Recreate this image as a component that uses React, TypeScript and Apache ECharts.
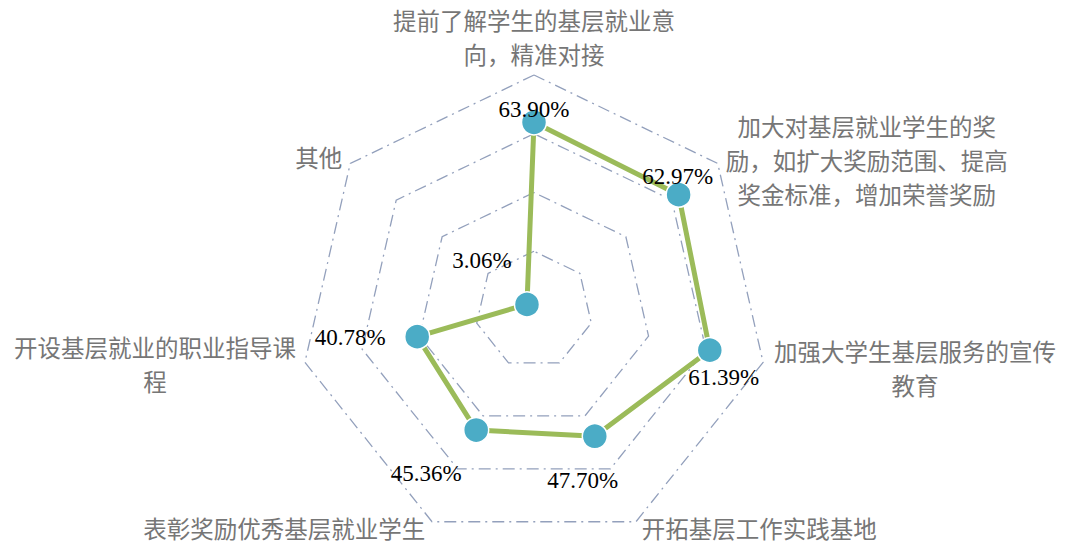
import React, { useEffect, useRef } from "react";
import * as echarts from "echarts";

// Categories listed clockwise from the top, as in the reference
const categories: string[] = [
  "提前了解学生的基层就业意\n向，精准对接",
  "加大对基层就业学生的奖\n励，如扩大奖励范围、提高\n奖金标准，增加荣誉奖励",
  "加强大学生基层服务的宣传\n教育",
  "开拓基层工作实践基地",
  "表彰奖励优秀基层就业学生",
  "开设基层就业的职业指导课\n程",
  "其他",
];
const values: number[] = [63.9, 62.97, 61.39, 47.7, 45.36, 40.78, 3.06];
const axisMax = 80;
const splitCount = 4;

// label offsets (px) relative to each point, same order as categories
const labelOffsets: [number, number][] = [
  [0, -13],
  [-1, -18],
  [14, 27],
  [-12, 44],
  [-50, 43],
  [-67, 1],
  [-45, -44],
];
// axis-name padding [top, right, bottom, left], same order as categories
const namePads: number[][] = [
  [0, 0, 0, 0],
  [0, 0, 2, 5],
  [9, 0, 0, 7],
  [5, 0, 0, 4],
  [6, 5, 0, 0],
  [1, 5, 0, 0],
  [0, 5, 7, 0],
];

// ECharts places indicators counter-clockwise from the top
const ecOrder = [0, 6, 5, 4, 3, 2, 1];
const ecNames = ecOrder.map((i) => categories[i]);
const ecValues = ecOrder.map((i) => values[i]);
const ecOffsets = ecOrder.map((i) => labelOffsets[i]);
const ecPads = ecOrder.map((i) => namePads[i]);

export default function App() {
  const ref = useRef<HTMLDivElement>(null);
  useEffect(() => {
    if (!ref.current) return;
    const chart = echarts.init(ref.current, undefined, { renderer: "svg" });
    const labelRich: Record<string, any> = {};
    ecOffsets.forEach(([dx, dy], k) => {
      labelRich["o" + k] = {
        padding: [Math.max(0, 2 * dy), Math.max(0, -2 * dx), Math.max(0, -2 * dy), Math.max(0, 2 * dx)],
        fontSize: 23,
        fontFamily: "Liberation Serif, Times New Roman, serif",
        color: "#000000",
      };
    });
    const nameRich: Record<string, any> = {};
    ecNames.forEach((n, k) => {
      const multi = n.indexOf("\n") >= 0;
      nameRich["n" + k] = {
        align: "center",
        fontSize: 23.5,
        lineHeight: multi ? 34 : 24,
        color: "#767676",
        fontFamily: "Noto Sans CJK SC, sans-serif",
        padding: ecPads[k],
      };
    });
    chart.setOption({
      animation: false,
      backgroundColor: "#ffffff",
      radar: {
        center: [534, 310],
        radius: 235,
        startAngle: 90,
        splitNumber: splitCount,
        shape: "polygon",
        nameGap: 4,
        indicator: ecNames.map((n) => ({ name: n, min: 0, max: axisMax })),
        axisName: {
          color: "#767676",
          fontSize: 23.5,
          fontFamily: "Noto Sans CJK SC, sans-serif",
          formatter: (name: string) => {
            const k = Math.max(0, ecNames.indexOf(name));
            return name
              .split("\n")
              .map((l) => `{n${k}|${l}}`)
              .join("\n");
          },
          rich: nameRich,
        },
        axisLine: { show: false },
        axisTick: { show: false },
        axisLabel: { show: false },
        splitArea: { show: false },
        splitLine: {
          lineStyle: { color: "#93A0BC", width: 1.3, type: [12, 5, 2, 5] },
        },
      },
      series: [
        {
          type: "radar",
          symbol: "circle",
          symbolSize: 25,
          lineStyle: { color: "#9BBB59", width: 5 },
          itemStyle: { color: "#4BACC6", borderColor: "#ffffff", borderWidth: 1.5 },
          label: {
            show: true,
            position: "inside",
            formatter: (p: any) => {
              let k = typeof p.dimensionIndex === "number" ? p.dimensionIndex : ecValues.indexOf(p.value);
              if (k < 0) k = 0;
              const v = ecValues[k];
              return `{o${k}|${v.toFixed(2)}%}`;
            },
            rich: labelRich,
          },
          data: [{ value: ecValues }],
        },
      ],
    });
    return () => chart.dispose();
  }, []);
  return (
    <div
      ref={ref}
      style={{ position: "absolute", left: 0, top: 0, width: 1068, height: 544, background: "#fff" }}
    />
  );
}
